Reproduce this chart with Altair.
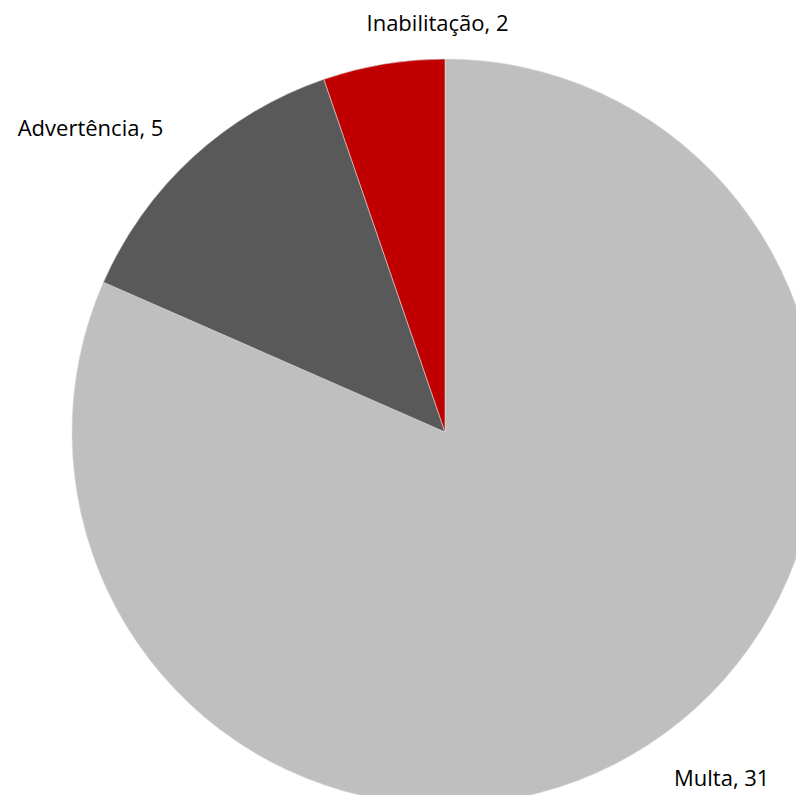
import altair as alt
import pandas as pd
import math

categories = ["Multa", "Advertência", "Inabilitação"]
values = [31, 5, 2]
colors = ["#BFBFBF", "#595959", "#C00000"]

df = pd.DataFrame({
    "cat": categories,
    "val": values,
    "order": list(range(len(categories))),
})
df["label"] = df["cat"] + ", " + df["val"].astype(str)

CX, CY, R = 437, 424, 373

pie = alt.Chart(df).mark_arc(outerRadius=R, stroke="#D9D9D9", strokeWidth=0.6).encode(
    theta=alt.Theta("val:Q", stack=True),
    order=alt.Order("order:Q"),
    x=alt.value(CX),
    y=alt.value(CY),
    color=alt.Color("cat:N", scale=alt.Scale(domain=categories, range=colors), legend=None),
)

offsets = {
    "Multa": (420, 47, -5),
    "Advertência": (420, -70, 6),
    "Inabilitação": (410, 60, -4),
}

text_base = alt.Chart(df).transform_window(
    cum="sum(val)", sort=[alt.SortField("order")]
).transform_joinaggregate(
    total="sum(val)"
).transform_calculate(
    mid="(datum.cum - datum.val / 2) / datum.total"
)

texts = []
for cat in categories:
    r, dx, dy = offsets[cat]
    texts.append(
        text_base.transform_filter(alt.datum.cat == cat)
        .mark_text(radius=r, dx=dx, dy=dy, font="Open Sans", fontSize=22,
                   color="#000000", baseline="middle", align="center")
        .encode(
            theta=alt.Theta("mid:Q", stack=False,
                            scale=alt.Scale(domain=[0, 1], range=[0, 2 * math.pi])),
            x=alt.value(CX), y=alt.value(CY), text="label:N",
        )
    )

chart = alt.layer(pie, *texts).resolve_scale(theta="independent").properties(
    width=788, height=787, padding=0,
    autosize=alt.AutoSizeParams(type="none"),
).configure_view(stroke=None)

chart.save("out.html", embed_options={"renderer": "svg", "actions": False})
